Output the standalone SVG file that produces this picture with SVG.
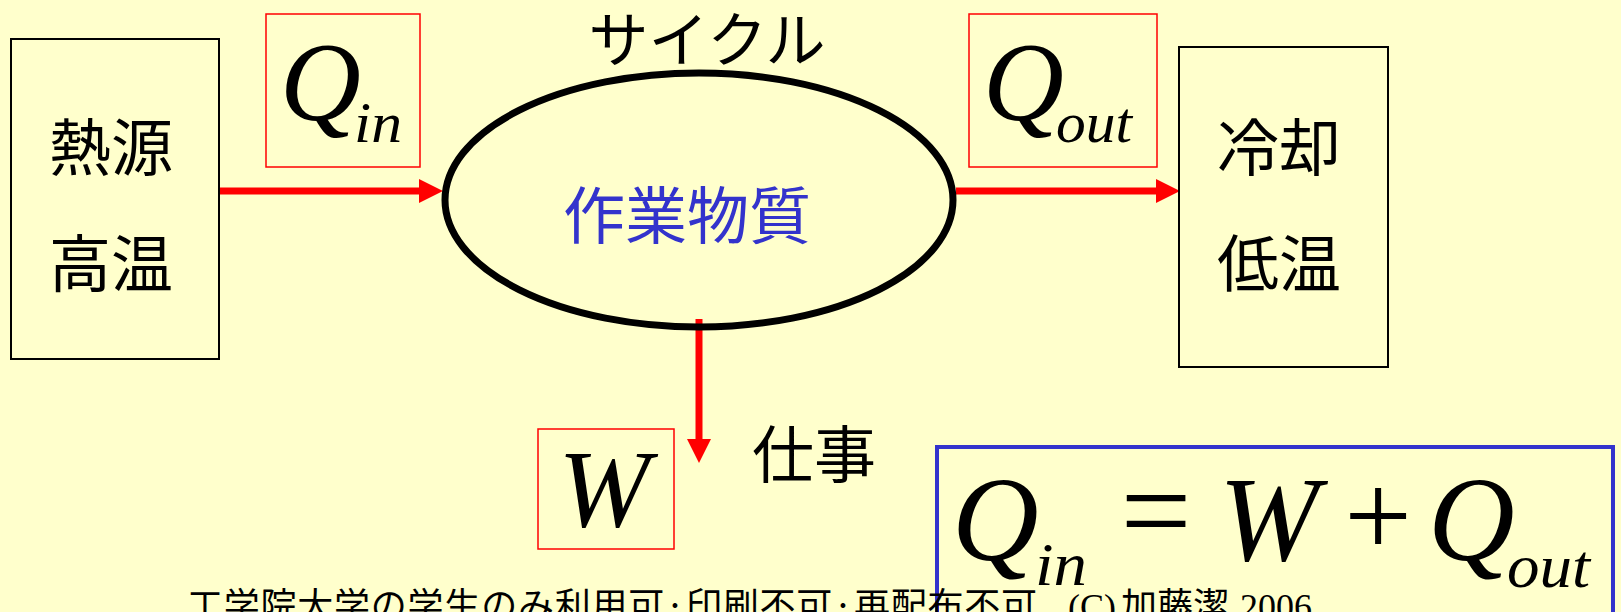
<svg xmlns="http://www.w3.org/2000/svg" width="1621" height="612" viewBox="0 0 1621 612">
<defs>
<style>
.box{fill:none;stroke:#000;stroke-width:2}
.rbox{fill:none;stroke:#ff0000;stroke-width:1.5}
.jp{font-family:"Noto Sans CJK JP","Noto Sans CJK SC",sans-serif;fill:#000}
.m{font-family:"Liberation Serif",serif;font-style:italic;fill:#000}
.mu{font-family:"Liberation Serif",serif;fill:#000}
.conn{stroke:#ff0000;stroke-width:7;fill:none}
</style>
<marker id="ah" markerUnits="userSpaceOnUse" markerWidth="24" markerHeight="24" refX="0" refY="12" orient="auto" viewBox="0 0 24 24">
<path d="M0,0 L24,12 L0,24 z" fill="#ff0000"/>
</marker>
</defs>
<rect width="1621" height="612" fill="#ffffcc"/>

<g id="connectors">
<line class="conn" x1="219" y1="191" x2="419" y2="191" marker-end="url(#ah)"/>
<line class="conn" x1="956" y1="191" x2="1156" y2="191" marker-end="url(#ah)"/>
<line class="conn" x1="699" y1="319" x2="699" y2="439" marker-end="url(#ah)"/>
</g>

<g id="heat-source">
<rect class="box" x="11" y="39" width="208" height="320"/>
<text class="jp" x="111" y="171" font-size="62" text-anchor="middle">熱源</text>
<text class="jp" x="111" y="287" font-size="62" text-anchor="middle">高温</text>
</g>

<g id="cold-sink">
<rect class="box" x="1179" y="47" width="209" height="320"/>
<text class="jp" x="1279" y="171" font-size="62" text-anchor="middle">冷却</text>
<text class="jp" x="1279" y="287" font-size="62" text-anchor="middle">低温</text>
</g>

<g id="working-fluid">
<ellipse cx="699" cy="200" rx="254" ry="127" fill="none" stroke="#000" stroke-width="7"/>
<text class="jp" x="687" y="239" font-size="62" text-anchor="middle" style="fill:#3333cc">作業物質</text>
<text class="jp" x="707" y="62" font-size="60" text-anchor="middle">サイクル</text>
</g>

<g id="label-qin">
<rect class="rbox" x="266" y="14" width="154" height="153"/>
<text class="m" x="280" y="120" font-size="112">Q</text>
<text class="m" x="354" y="142" font-size="58" textLength="48" lengthAdjust="spacingAndGlyphs">in</text>
</g>

<g id="label-qout">
<rect class="rbox" x="969" y="14" width="188" height="153"/>
<text class="m" x="983" y="120" font-size="112">Q</text>
<text class="m" x="1056" y="142" font-size="58" textLength="76" lengthAdjust="spacingAndGlyphs">out</text>
</g>

<g id="label-w">
<rect class="rbox" x="538" y="429" width="136" height="120"/>
<text class="m" x="604" y="526" font-size="110" text-anchor="middle">W</text>
<text class="jp" x="814" y="478" font-size="62" text-anchor="middle">仕事</text>
</g>

<g id="equation">
<rect x="937" y="447" width="676" height="200" fill="none" stroke="#3333cc" stroke-width="4"/>
<text class="m" x="952" y="560" font-size="120">Q</text>
<text class="m" x="1035" y="585" font-size="62" textLength="52" lengthAdjust="spacingAndGlyphs">in</text>
<text class="mu" x="1156" y="553" font-size="126" text-anchor="middle">=</text>
<text class="m" x="1269" y="560" font-size="120" text-anchor="middle">W</text>
<text class="mu" x="1378" y="556" font-size="120" text-anchor="middle">+</text>
<text class="m" x="1428" y="560" font-size="120">Q</text>
<text class="m" x="1507" y="587" font-size="62" textLength="83" lengthAdjust="spacingAndGlyphs">out</text>
</g>

<g id="copyright">
<text class="jp" x="187" y="619" font-size="36" textLength="850" lengthAdjust="spacing">工学院大学の学生のみ利用可·印刷不可·再配布不可</text>
<text class="mu" x="1068" y="619" font-size="36">(C)</text>
<text class="jp" x="1121" y="619" font-size="36">加藤潔</text>
<text class="mu" x="1240" y="619" font-size="36">2006</text>
</g>
</svg>
